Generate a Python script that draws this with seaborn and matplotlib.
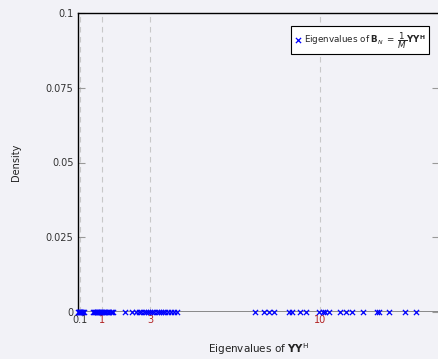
import numpy as np
import pandas as pd
import matplotlib
matplotlib.use("Agg")
import matplotlib.pyplot as plt
import seaborn as sns

# Data
cluster_01 = [0.02, 0.05, 0.07, 0.09, 0.11, 0.13, 0.15, 0.18, 0.21, 0.25]
cluster_1 = [0.62, 0.66, 0.70, 0.74, 0.78, 0.82, 0.86, 0.90, 0.94, 0.98,
             1.02, 1.06, 1.10, 1.14, 1.19, 1.24, 1.30, 1.36, 1.42, 1.46]
cluster_3 = [1.97, 2.25, 2.40, 2.52, 2.62, 2.72, 2.82, 2.92, 3.00, 3.08,
             3.17, 3.26, 3.35, 3.44, 3.53, 3.62, 3.72, 3.84, 3.96, 4.10]
cluster_10 = [7.33, 7.67, 7.88, 8.12, 8.71, 8.85, 9.19, 9.40, 9.95, 10.14,
              10.22, 10.36, 10.84, 11.09, 11.33, 11.76, 12.33, 12.45, 12.86,
              13.49, 13.94]
density_level = 0.0

pop_ticks = [0.1, 1, 3, 10]
pop_labels = ["0.1", "1", "3", "10"]
pop_colors = ["#333333", "#b22222", "#b22222", "#b22222"]
y_ticks = [0, 0.025, 0.05, 0.075, 0.1]
y_labels = ["0", "0.025", "0.05", "0.075", "0.1"]

eigs = cluster_01 + cluster_1 + cluster_3 + cluster_10
df = pd.DataFrame({"eig": eigs, "density": [density_level] * len(eigs)})

bg = "#f2f2f7"
sns.set_style("white")
plt.rcParams["font.family"] = ["DejaVu Sans"]
plt.rcParams["mathtext.fontset"] = "dejavusans"

fig = plt.figure(figsize=(4.38, 3.59), dpi=100, facecolor=bg)
ax = fig.add_axes([77.6 / 438, 1 - 312 / 359, 1 - 77.6 / 438 + 0.002, (312 - 13) / 359])
ax.set_facecolor(bg)

for t in pop_ticks:
    ax.axvline(t, color="#c8c8c8", lw=0.8, ls=(0, (5, 4)), zorder=0)
ax.axhline(0, color="#777777", lw=1.2, zorder=1)

sns.scatterplot(data=df, x="eig", y="density", marker="x", color="blue",
                s=14, linewidth=0.9, ax=ax, zorder=3, clip_on=False,
                label=r"Eigenvalues of $\mathbf{B}_N\;=\;\dfrac{1}{M}\mathbf{YY}^{\mathbf{H}}$")

ax.set_xlim(0, 14.9)
ax.set_ylim(0, 0.1)
ax.set_xticks(pop_ticks)
ax.set_xticklabels(pop_labels)
for lbl, c in zip(ax.get_xticklabels(), pop_colors):
    lbl.set_color(c)
ax.set_yticks(y_ticks)
ax.set_yticklabels(y_labels)
ax.tick_params(axis="x", length=0, labelsize=7, pad=2)
ax.tick_params(axis="y", direction="in", length=5, width=0.8, color="#999999",
               labelsize=7, labelcolor="#333333", right=True, left=True, pad=3)

for side in ["left", "top"]:
    ax.spines[side].set_color("black")
    ax.spines[side].set_linewidth(1.0)
ax.spines["right"].set_visible(False)
ax.spines["bottom"].set_visible(False)

ax.set_xlabel(r"Eigenvalues of $\mathbf{YY}^{\mathrm{H}}$", fontsize=7.5, color="#222222", labelpad=12)
ax.set_ylabel("Density", fontsize=7, color="#222222", labelpad=18)

leg = ax.legend(loc="upper right", fontsize=6.3, frameon=True, fancybox=False,
                edgecolor="black", facecolor="white", framealpha=1,
                handletextpad=0.3, borderpad=0.4, handlelength=0.8,
                bbox_to_anchor=(0.985, 0.97))
leg.get_frame().set_linewidth(0.8)

fig.savefig("out.png", dpi=100, facecolor=bg)
